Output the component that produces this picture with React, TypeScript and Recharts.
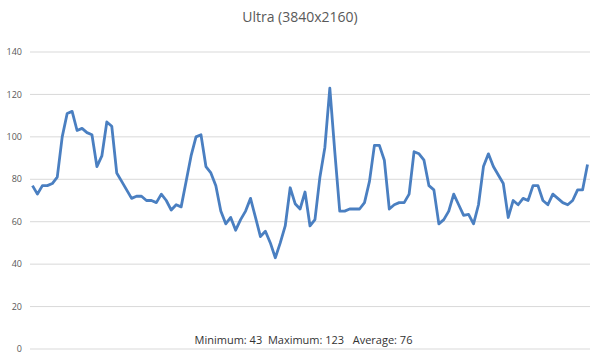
import React from "react";
import { LineChart, Line, XAxis, YAxis, CartesianGrid } from "recharts";

const title = "Ultra (3840x2160)";
const footer = "Minimum: 43  Maximum: 123   Average: 76";

const fps: number[] = [
  77, 73, 77, 77, 78, 81, 100, 111, 112, 103,
  104, 102, 101, 86, 91, 107, 105, 83, 79, 75,
  71, 72, 72, 70, 70, 69, 73, 70, 65.5, 68,
  67, 79, 91, 100, 101, 86, 83, 77, 65, 59,
  62, 56, 61, 65, 71, 62, 53, 55.5, 50, 43,
  50, 58, 76, 68.5, 66, 74, 58, 61, 81, 95,
  123, 93, 65, 65, 66, 66, 66, 69, 79, 96,
  96, 89, 66, 68, 69, 69, 73, 93, 92, 89,
  77, 75, 59, 61, 65, 73, 68, 63, 63.5, 59,
  68, 86, 92, 86, 82, 78, 62, 70, 68, 71,
  70, 77, 77, 70, 68, 73, 71, 69, 68, 70,
  75, 75, 87,
];

const yTicks = [0, 20, 40, 60, 80, 100, 120, 140];

const data = fps.map((v, i) => ({ idx: i + 1, fps: v }));

const font = "'Open Sans', 'Noto Sans', sans-serif";

export default function App() {
  return (
    <div style={{ position: "absolute", left: 0, top: 0, width: 600, height: 361, background: "#fff", fontFamily: font }}>
      <div
        style={{
          position: "absolute",
          left: 0,
          top: 7,
          width: 600,
          textAlign: "center",
          fontSize: 14,
          color: "#595959",
        }}
      >
        {title}
      </div>
      <LineChart
        width={600}
        height={361}
        data={data}
        margin={{ top: 52, right: 10, bottom: 12, left: 0 }}
      >
        <CartesianGrid vertical={false} stroke="#d9d9d9" strokeWidth={1} />
        <XAxis dataKey="idx" scale="band" hide />
        <YAxis
          domain={[0, 140]}
          ticks={yTicks}
          width={30}
          tickSize={0}
          tickMargin={8}
          axisLine={false}
          tickLine={false}
          tick={{ fontSize: 9, fill: "#595959", fontFamily: font }}
          interval={0}
        />
        <Line
          type="linear"
          dataKey="fps"
          stroke="#4a7fc1"
          strokeWidth={2.8}
          dot={false}
          isAnimationActive={false}
          strokeLinejoin="round"
        />
      </LineChart>
      <div
        style={{
          position: "absolute",
          left: 0,
          top: 332,
          width: 607,
          textAlign: "center",
          fontSize: 11,
          color: "#333333",
          whiteSpace: "pre",
        }}
      >
        {footer}
      </div>
    </div>
  );
}
